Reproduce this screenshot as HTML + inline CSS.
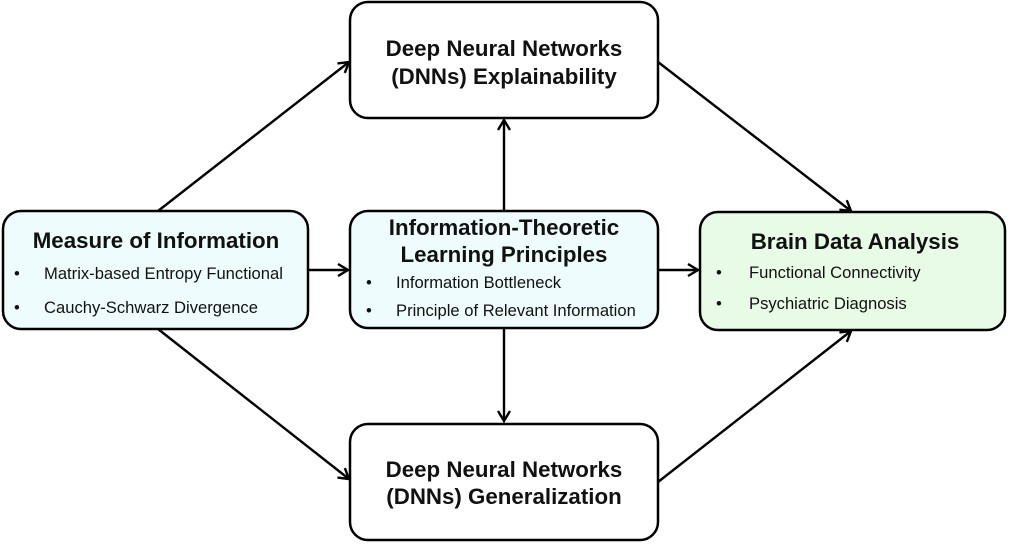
<!DOCTYPE html>
<html><head><meta charset="utf-8"><style>
body{margin:0;background:#fff;}
svg text{font-family:"Liberation Sans",Arial,sans-serif;fill:#111;}
.t{font-weight:bold;font-size:22.3px;}
.i{font-size:16.6px;}
</style></head><body>
<svg width="1009" height="544" viewBox="0 0 1009 544" xmlns="http://www.w3.org/2000/svg">
<defs><marker id="a" markerWidth="14" markerHeight="14" refX="11" refY="7" orient="auto" markerUnits="userSpaceOnUse">
<path d="M1,1 L11,7 L1,13" fill="none" stroke="#000" stroke-width="2.4"/></marker></defs>
<g stroke="#000" stroke-width="2.4" fill="none" marker-end="url(#a)">
<line x1="158" y1="211" x2="349" y2="62"/>
<line x1="158" y1="329" x2="349" y2="479"/>
<line x1="658" y1="62" x2="851" y2="211"/>
<line x1="658" y1="482" x2="851" y2="331"/>
<line x1="504" y1="211" x2="504" y2="120"/>
<line x1="504" y1="328" x2="504" y2="421"/>
<line x1="308" y1="270" x2="348" y2="270"/>
<line x1="658" y1="270" x2="698" y2="270"/>
</g>
<g stroke="#000" stroke-width="2.5">
<rect x="350" y="2" width="308" height="116" rx="18" fill="#fff"/>
<rect x="350" y="424" width="308" height="116" rx="18" fill="#fff"/>
<rect x="3" y="211" width="305" height="118" rx="18" fill="#effcfd"/>
<rect x="350" y="211" width="308" height="117" rx="18" fill="#effcfd"/>
<rect x="700" y="212" width="305" height="118" rx="18" fill="#e8fbe6"/>
</g>
<text class="t" x="504" y="56" text-anchor="middle">Deep Neural Networks</text>
<text class="t" x="504" y="84" text-anchor="middle">(DNNs) Explainability</text>
<text class="t" x="504" y="477" text-anchor="middle">Deep Neural Networks</text>
<text class="t" x="504" y="504" text-anchor="middle">(DNNs) Generalization</text>
<text class="t" x="156" y="248" text-anchor="middle">Measure of Information</text>
<text class="i" x="14" y="279">•</text><text class="i" x="44" y="279">Matrix-based Entropy Functional</text>
<text class="i" x="14" y="313">•</text><text class="i" x="44" y="313">Cauchy-Schwarz Divergence</text>
<text class="t" x="504" y="235" text-anchor="middle">Information-Theoretic</text>
<text class="t" x="504" y="262" text-anchor="middle">Learning Principles</text>
<text class="i" x="366" y="288">•</text><text class="i" x="396" y="288">Information Bottleneck</text>
<text class="i" x="366" y="316">•</text><text class="i" x="396" y="316">Principle of Relevant Information</text>
<text class="t" x="855" y="249" text-anchor="middle">Brain Data Analysis</text>
<text class="i" x="716" y="278">•</text><text class="i" x="749" y="278">Functional Connectivity</text>
<text class="i" x="716" y="309">•</text><text class="i" x="749" y="309">Psychiatric Diagnosis</text>
</svg>
</body></html>
